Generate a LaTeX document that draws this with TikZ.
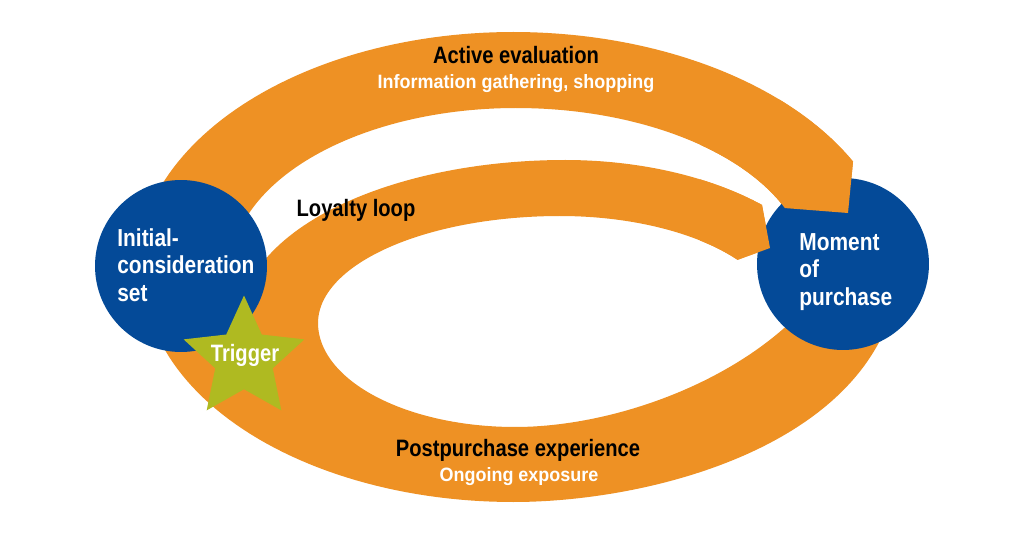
\documentclass[tikz,border=0pt]{standalone}
\usepackage{fontspec}
\setmainfont{Liberation Sans}
\newfontfamily\fa{Liberation Sans}[FakeStretch=0.85]
\newfontfamily\fb{Liberation Sans}[FakeStretch=0.93]
\usetikzlibrary{shapes.geometric}
\definecolor{orng}{RGB}{238,145,36}
\definecolor{blu}{RGB}{4,74,152}
\definecolor{grn}{RGB}{175,186,33}
% top band (Active evaluation)
\def\pathT{plot[domain=-165:-90, samples=50, variable=\t] ({513+377*cos(\t)},{272+240*sin(\t)})
  -- plot[domain=-90:-27.4, samples=50, variable=\t] ({513+383*cos(\t)},{272+240*sin(\t)})
  -- (848,213)
  -- plot[domain=-22.95:-90, samples=50, variable=\t] ({516+292*cos(\t)},{272+164*sin(\t)})
  -- plot[domain=-90:-165, samples=50, variable=\t] ({516+286*cos(\t)},{272+164*sin(\t)})
  -- cycle}
% loyalty loop + postpurchase band
\def\pathL{(762,205) -- (770,248)
  -- plot[domain=-36.2:-90, samples=50, variable=\t] ({560+220*cos(\t)},{323+107*sin(\t)})
  -- plot[domain=-90:-180, samples=50, variable=\t] ({560+242*cos(\t)},{323+107*sin(\t)})
  -- plot[domain=180:90, samples=50, variable=\t] ({515+197*cos(\t)},{323+104*sin(\t)})
  .. controls (610,427) and (730,385) .. (800,313)
  -- (860,300) -- (885,330)
  .. controls (830,455) and (640,502) .. (513,502)
  -- plot[domain=90:172, samples=50, variable=\t] ({513+370*cos(\t)},{272+230*sin(\t)})
  -- plot[domain=-165:-90, samples=50, variable=\t] ({565+325*cos(\t)},{322+162*sin(\t)})
  -- plot[domain=-90:-46.3, samples=50, variable=\t] ({565+285*cos(\t)},{322+162*sin(\t)})
  -- cycle}
\begin{document}
\begin{tikzpicture}[x=0.02cm,y=-0.02cm,
  band/.style={fill=orng},
  hd/.style={font=\fa\bfseries\fontsize{13.5}{16}\selectfont, text=black, inner sep=0},
  sub/.style={font=\fb\bfseries\fontsize{11}{13}\selectfont, text=white, inner sep=0},
  disc/.style={circle, fill=blu, minimum size=3.44cm, inner sep=0},
  disctext/.style={font=\fa\bfseries\fontsize{14}{15.5}\selectfont, text=white, align=left, inner sep=0, anchor=west},
  startrig/.style={star, star points=5, star point ratio=2.1, minimum size=2.54cm, inner sep=0, fill=grn},
]
\useasboundingbox[fill=white] (0,0) rectangle (1024,550);
% bands
\fill[band] \pathL;
\fill[band] \pathT;
% moment of purchase disc
\node[disc] (mop) at (843,264) {};
\begin{scope}
  \clip (700,100) rectangle (900,262);
  \fill[band] \pathL;
  \fill[band] \pathT;
\end{scope}
% initial consideration disc
\node[disc] (ics) at (181,266) {};
% trigger star
\node[startrig] (trig) at (244,359) {};
% texts
\node[disctext] (icstext) at (117,265) {Initial-\\consideration\\set};
\node[disctext] (moptext) at (799,272) {Moment\\of\\purchase};
\node[hd, anchor=base, text=white] (trigtext) at (245,361.5) {Trigger};
\node[hd, anchor=base] (ae) at (516,63.5) {Active evaluation};
\node[sub, anchor=base] (ig) at (516,89) {Information gathering, shopping};
\node[hd, anchor=base] (ll) at (356,217) {Loyalty loop};
\node[hd, anchor=base] (pe) at (518,456) {Postpurchase experience};
\node[sub, anchor=base] (oe) at (519,481.5) {Ongoing exposure};
\end{tikzpicture}
\end{document}
